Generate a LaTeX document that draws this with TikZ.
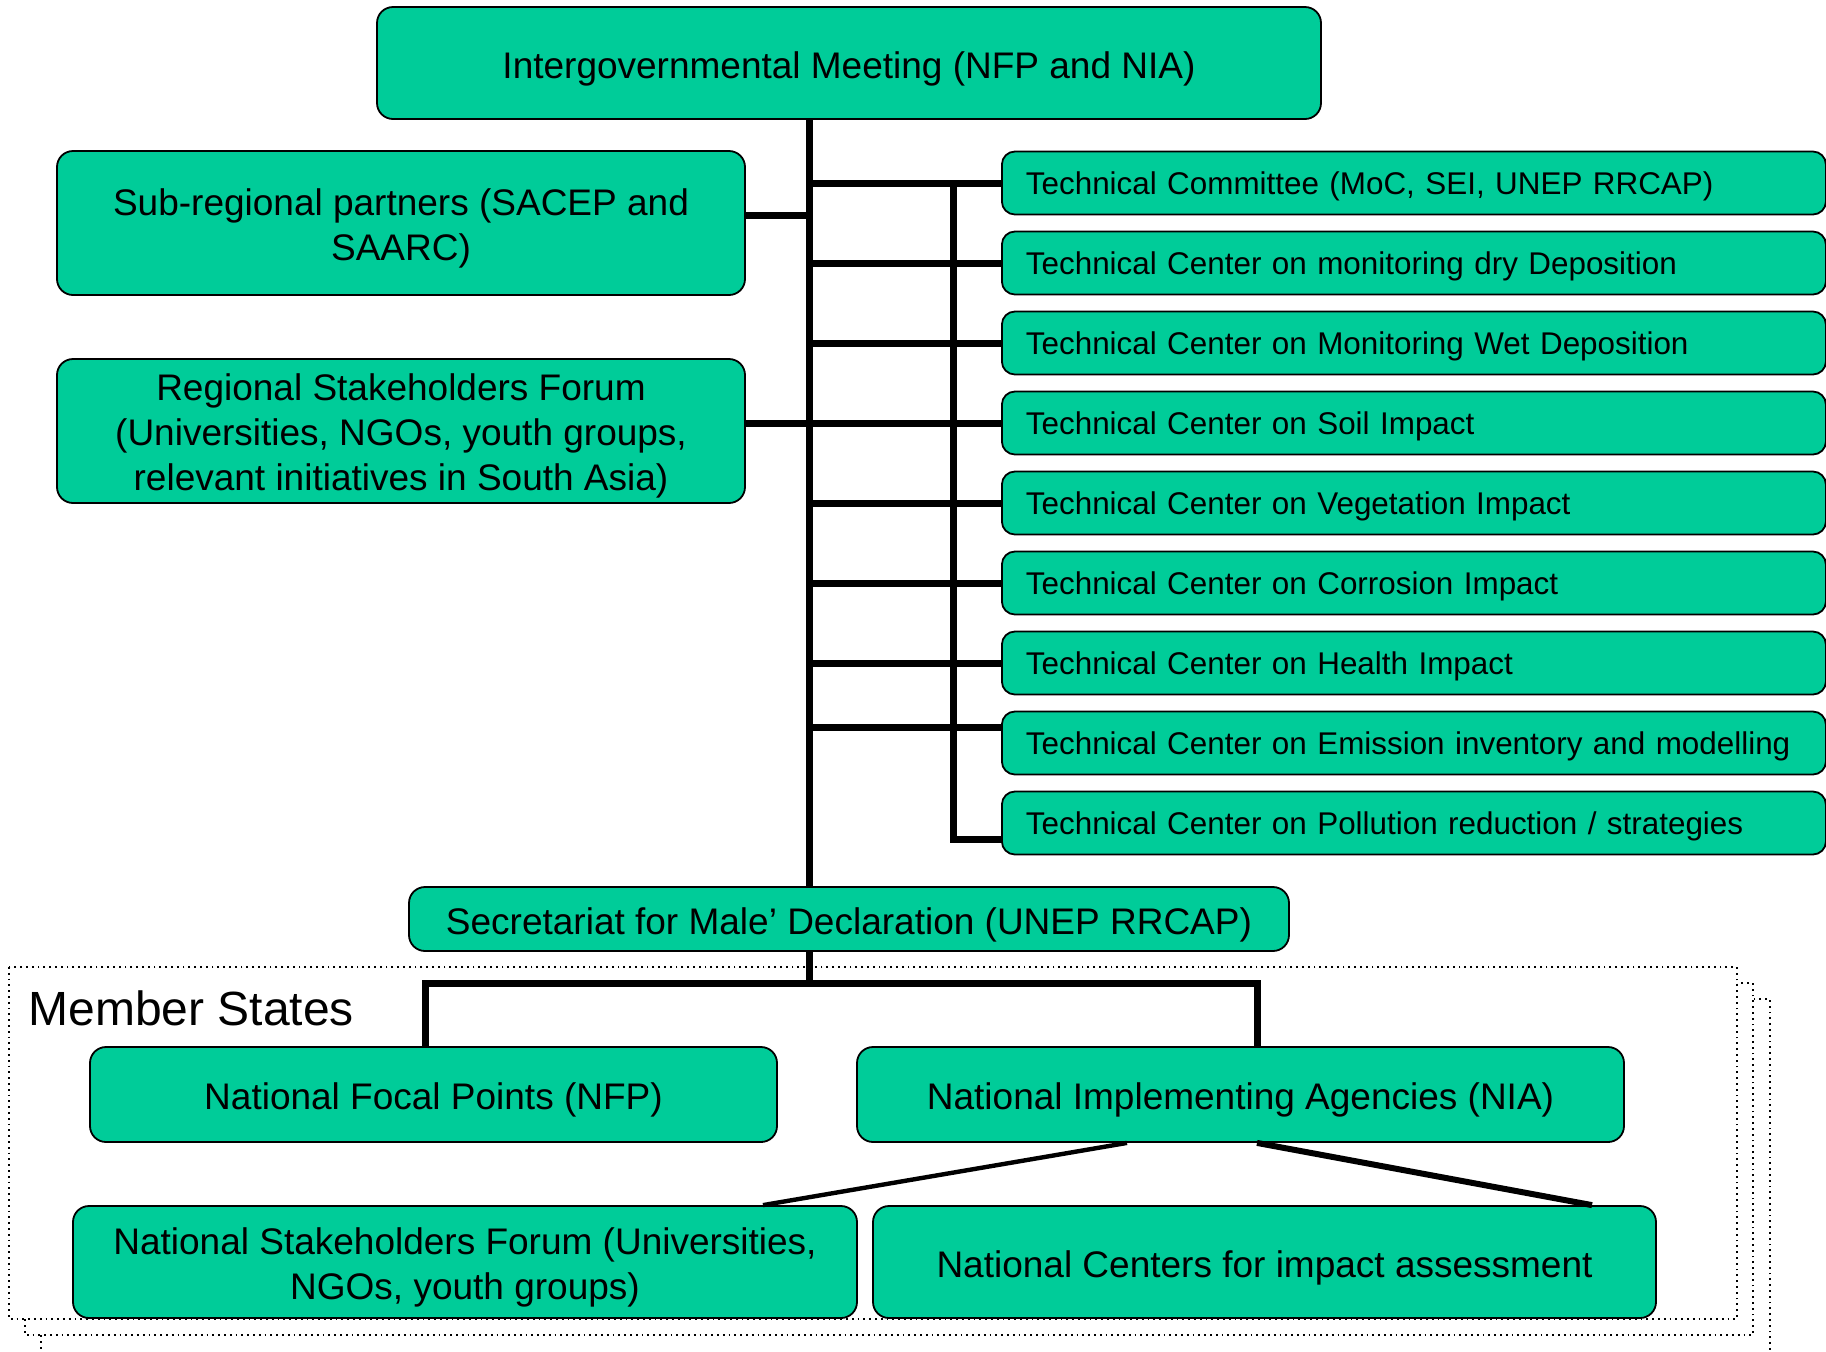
\documentclass[tikz,border=0pt]{standalone}
\usepackage{fontspec}
\setmainfont{Liberation Sans}
\usetikzlibrary{positioning,calc}
\definecolor{boxgreen}{RGB}{0,204,153}
\tikzset{
  orgbox/.style={draw=black,line width=0.9pt,fill=boxgreen,rounded corners=8pt,align=center,inner sep=0pt,text height=18.6pt,text depth=3.33pt,font=\fontsize{18.5}{22.5}\selectfont},
  twoline/.style={text height=37.8pt,text depth=0pt},
  threeline/.style={text height=59.5pt,text depth=0pt},
  techbox/.style={draw=black,line width=0.9pt,fill=boxgreen,rounded corners=6.5pt,anchor=west,align=left,inner xsep=12pt,inner ysep=0pt,text width=388pt,minimum height=31.5pt,text height=14.2pt,text depth=2.85pt,font=\fontsize{15.7}{19}\selectfont},
  link/.style={line width=3.5pt,line join=miter},
  stackframe/.style={dotted,line width=0.9pt},
}

\begin{document}
\begin{tikzpicture}[x=0.5pt,y=-0.5pt]
  \useasboundingbox (0,0) rectangle (1826,1351);
  % member states, stacked
  \draw[stackframe] (41,999) rectangle (1770,1380);
  \draw[stackframe,fill=white] (25,983) rectangle (1753,1335);
  \draw[stackframe,fill=white] (9,967) rectangle (1737,1319);
  \node[anchor=base west,inner sep=0pt,font=\fontsize{24}{28}\selectfont] (ms) at (28,1025) {Member States};

  \node[orgbox,minimum width=472pt,minimum height=56pt] (gov) at (849,63) {Intergovernmental Meeting (NFP and NIA)};
  \node[orgbox,twoline,minimum width=344pt,minimum height=72pt] (sub) at (401,223) {Sub-regional partners (SACEP and\\SAARC)};
  \node[orgbox,threeline,minimum width=344pt,minimum height=72pt] (reg) at (401,431) {Regional Stakeholders Forum\\(Universities, NGOs, youth groups,\\relevant initiatives in South Asia)};
  \foreach \t [count=\i] in {{Technical Committee (MoC, SEI, UNEP RRCAP)},
      Technical Center on monitoring dry Deposition,
      Technical Center on Monitoring Wet Deposition,
      Technical Center on Soil Impact,
      Technical Center on Vegetation Impact,
      Technical Center on Corrosion Impact,
      Technical Center on Health Impact,
      Technical Center on Emission inventory and modelling,
      Technical Center on Pollution reduction / strategies}{
    \node[techbox] (tech\i) at (1001,{103+80*\i}) {\t};
  }
  \node[orgbox,minimum width=440pt,minimum height=32pt] (sec) at (849,919) {Secretariat for Male’ Declaration (UNEP RRCAP)};
  \node[orgbox,minimum width=343.5pt,minimum height=47.5pt] (nfp) at (433.5,1094.5) {National Focal Points (NFP)};
  \node[orgbox,minimum width=383.5pt,minimum height=47.5pt] (nia) at (1240.5,1094.5) {National Implementing Agencies (NIA)};
  \node[orgbox,twoline,minimum width=392pt,minimum height=56pt] (nsf) at (465,1262) {National Stakeholders Forum (Universities,\\NGOs, youth groups)};
  \node[orgbox,minimum width=391.5pt,minimum height=56pt] (nca) at (1264.5,1262) {National Centers for impact assessment};

  % trunk and branches
  \coordinate (tk) at (809,0);
  \coordinate (ib) at (953,0);
  \draw[link] (gov.south -| tk) -- (sec.north -| tk);
  \foreach \i in {1,...,7}{
    \draw[link] (tk |- tech\i.west) -- (tech\i.west);
  }
  \coordinate (r8) at ($(tech8.west)+(0,-16)$);
  \coordinate (r9) at ($(tech9.west)+(0,16)$);
  \draw[link] (tk |- r8) -- (r8);
  \draw[link] (ib |- tech1.west) -- (ib |- r9) -- (r9);
  \coordinate (s1) at ($(sub.east)+(0,-8)$);
  \draw[link] (s1) -- (tk |- s1);
  \draw[link] (reg.east |- tech4.west) -- (tk |- tech4.west);

  % member states links
  \coordinate (bl) at (425,983);
  \coordinate (br) at (1257,983);
  \draw[link] (sec.south -| tk) -- (tk |- bl);
  \draw[link] (nfp.north -| bl) -- (bl) -- (br) -- (nia.north -| br);
  \draw[line width=2.2pt] ($(nia.south)+(-113.5,0)$) -- ($(nsf.north)+(298,0)$);
  \draw[line width=3pt] ($(nia.south)+(16.5,0)$) -- ($(nca.north)+(327.5,0)$);
\end{tikzpicture}
\end{document}
